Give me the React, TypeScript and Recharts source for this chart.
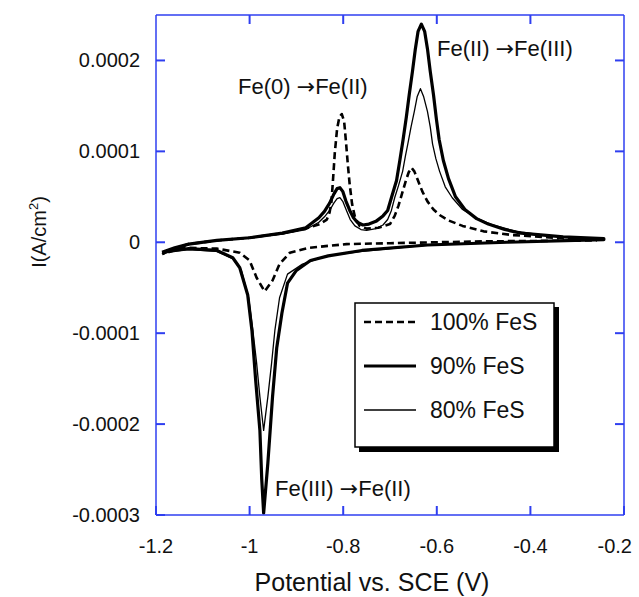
import { LineChart, Line, XAxis, YAxis, Legend } from 'recharts'

// potential (V vs SCE), current density (A/cm2), traced along the sweep
const FES_100: [number, number][] = [
  [-1.187, -0.13e-4], [-1.16, -0.07e-4], [-1.13, -0.02e-4], [-1.07, 0.02e-4],
  [-1.0, 0.05e-4], [-0.93, 0.1e-4], [-0.88, 0.15e-4], [-0.85, 0.2e-4],
  [-0.835, 0.25e-4], [-0.829, 0.33e-4], [-0.825, 0.45e-4], [-0.822, 0.67e-4],
  [-0.818, 0.98e-4], [-0.813, 1.25e-4], [-0.808, 1.38e-4], [-0.803, 1.41e-4],
  [-0.798, 1.33e-4], [-0.794, 1.1e-4], [-0.79, 0.85e-4], [-0.786, 0.63e-4],
  [-0.781, 0.42e-4], [-0.775, 0.28e-4], [-0.765, 0.18e-4], [-0.75, 0.15e-4],
  [-0.725, 0.16e-4], [-0.7, 0.2e-4], [-0.69, 0.29e-4], [-0.682, 0.4e-4],
  [-0.674, 0.54e-4], [-0.666, 0.68e-4], [-0.66, 0.77e-4], [-0.654, 0.82e-4],
  [-0.648, 0.78e-4], [-0.641, 0.69e-4], [-0.631, 0.56e-4], [-0.62, 0.45e-4],
  [-0.607, 0.36e-4], [-0.594, 0.3e-4], [-0.575, 0.24e-4], [-0.545, 0.18e-4],
  [-0.5, 0.12e-4], [-0.44, 0.08e-4], [-0.35, 0.05e-4], [-0.26, 0.03e-4],
  [-0.26, 0.02e-4], [-0.5, 0.01e-4], [-0.7, -0.01e-4], [-0.793, -0.02e-4],
  [-0.872, -0.06e-4], [-0.914, -0.115e-4], [-0.936, -0.24e-4], [-0.951, -0.42e-4],
  [-0.968, -0.54e-4], [-0.985, -0.39e-4], [-1.0, -0.2e-4], [-1.021, -0.115e-4],
  [-1.07, -0.07e-4], [-1.142, -0.06e-4], [-1.187, -0.13e-4],
]

const FES_90: [number, number][] = [
  [-1.187, -0.11e-4], [-1.16, -0.06e-4], [-1.13, -0.02e-4], [-1.07, 0.02e-4],
  [-1.0, 0.05e-4], [-0.93, 0.1e-4], [-0.88, 0.16e-4], [-0.852, 0.27e-4],
  [-0.84, 0.34e-4], [-0.829, 0.43e-4], [-0.82, 0.53e-4], [-0.813, 0.59e-4],
  [-0.807, 0.6e-4], [-0.801, 0.56e-4], [-0.794, 0.45e-4], [-0.786, 0.35e-4],
  [-0.778, 0.27e-4], [-0.77, 0.22e-4], [-0.758, 0.19e-4], [-0.745, 0.2e-4],
  [-0.73, 0.23e-4], [-0.715, 0.29e-4], [-0.705, 0.35e-4], [-0.697, 0.49e-4],
  [-0.686, 0.68e-4], [-0.679, 0.9e-4], [-0.672, 1.13e-4], [-0.665, 1.38e-4],
  [-0.659, 1.62e-4], [-0.652, 1.88e-4], [-0.646, 2.12e-4], [-0.64, 2.32e-4],
  [-0.633, 2.4e-4], [-0.626, 2.32e-4], [-0.62, 2.13e-4], [-0.614, 1.88e-4],
  [-0.607, 1.62e-4], [-0.601, 1.36e-4], [-0.595, 1.13e-4], [-0.586, 0.9e-4],
  [-0.575, 0.7e-4], [-0.56, 0.5e-4], [-0.54, 0.36e-4], [-0.515, 0.26e-4],
  [-0.49, 0.2e-4], [-0.455, 0.14e-4], [-0.42, 0.1e-4], [-0.33, 0.06e-4],
  [-0.243, 0.04e-4],
  [-0.243, 0.03e-4], [-0.45, 0.0], [-0.62, -0.03e-4], [-0.76, -0.09e-4],
  [-0.832, -0.15e-4], [-0.87, -0.2e-4], [-0.9, -0.31e-4], [-0.919, -0.45e-4],
  [-0.931, -0.78e-4], [-0.942, -1.16e-4], [-0.951, -1.7e-4], [-0.961, -2.43e-4],
  [-0.97, -2.98e-4], [-0.974, -2.61e-4], [-0.978, -2.07e-4], [-0.987, -1.52e-4],
  [-0.995, -0.97e-4], [-1.004, -0.58e-4], [-1.021, -0.28e-4], [-1.036, -0.17e-4],
  [-1.07, -0.09e-4], [-1.13, -0.07e-4], [-1.187, -0.11e-4],
]

const FES_80: [number, number][] = [
  [-1.187, -0.11e-4], [-1.16, -0.06e-4], [-1.13, -0.02e-4], [-1.07, 0.02e-4],
  [-1.0, 0.05e-4], [-0.93, 0.09e-4], [-0.88, 0.14e-4], [-0.852, 0.22e-4],
  [-0.84, 0.28e-4], [-0.829, 0.35e-4], [-0.82, 0.43e-4], [-0.813, 0.48e-4],
  [-0.807, 0.49e-4], [-0.801, 0.45e-4], [-0.793, 0.35e-4], [-0.785, 0.25e-4],
  [-0.775, 0.18e-4], [-0.762, 0.14e-4], [-0.75, 0.13e-4], [-0.73, 0.15e-4],
  [-0.715, 0.19e-4], [-0.705, 0.25e-4], [-0.697, 0.35e-4], [-0.69, 0.49e-4],
  [-0.682, 0.62e-4], [-0.673, 0.78e-4], [-0.667, 0.95e-4], [-0.662, 1.08e-4],
  [-0.655, 1.27e-4], [-0.648, 1.44e-4], [-0.642, 1.6e-4], [-0.635, 1.69e-4],
  [-0.628, 1.6e-4], [-0.62, 1.44e-4], [-0.614, 1.27e-4], [-0.609, 1.08e-4],
  [-0.602, 0.92e-4], [-0.594, 0.78e-4], [-0.582, 0.61e-4], [-0.567, 0.49e-4],
  [-0.545, 0.36e-4], [-0.516, 0.27e-4], [-0.48, 0.19e-4], [-0.43, 0.12e-4],
  [-0.36, 0.07e-4], [-0.3, 0.05e-4], [-0.26, 0.04e-4],
  [-0.26, 0.03e-4], [-0.45, 0.0], [-0.62, -0.03e-4], [-0.76, -0.1e-4],
  [-0.835, -0.15e-4], [-0.887, -0.24e-4], [-0.919, -0.35e-4], [-0.936, -0.61e-4],
  [-0.946, -0.97e-4], [-0.953, -1.33e-4], [-0.961, -1.7e-4], [-0.97, -2.07e-4],
  [-0.978, -1.7e-4], [-0.985, -1.33e-4], [-0.993, -0.97e-4], [-1.002, -0.61e-4],
  [-1.018, -0.3e-4], [-1.036, -0.18e-4], [-1.07, -0.1e-4], [-1.13, -0.08e-4],
  [-1.187, -0.11e-4],
]

const X_TICKS = [-1.2, -1, -0.8, -0.6, -0.4, -0.2]
const Y_TICKS = [-0.0003, -0.0002, -0.0001, 0, 0.0001, 0.0002]

const FONT = '"Liberation Sans", Arial, sans-serif'
const ARROW_FONT = '"DejaVu Sans", sans-serif'
const FRAME = '#2f3ff0'
const INK = '#111'
const TICK_LEN = 9
const TICK_W = 2

const toPoints = (rows: [number, number][]) => rows.map(([x, y]) => ({ x, y }))

const SERIES = [
  { name: '100% FeS', data: toPoints(FES_100), width: 2.6, dash: '7 4' },
  { name: '90% FeS', data: toPoints(FES_90), width: 3.2, dash: undefined },
  { name: '80% FeS', data: toPoints(FES_80), width: 1.3, dash: undefined },
]

// bottom axis: inward tick + label (tickMargin 24 below the axis line)
const BottomTick = (props: any) => {
  const { x, y, payload, index } = props
  const axisY = y - 24
  const last = index === X_TICKS.length - 1
  return (
    <g>
      <path d={`M${x},${axisY}V${axisY - TICK_LEN}`} stroke={FRAME} strokeWidth={TICK_W} fill="none" />
      <text
        x={last ? x + 8 : x}
        y={y}
        dy="0.71em"
        textAnchor={last ? 'end' : 'middle'}
        fontFamily={FONT}
        fontSize={20}
        fill={INK}
      >
        {payload.value}
      </text>
    </g>
  )
}

const TopTick = (props: any) => (
  <path
    d={`M${props.x},${props.y}V${props.y + TICK_LEN}`}
    stroke={FRAME}
    strokeWidth={TICK_W}
    fill="none"
  />
)

const LeftTick = (props: any) => {
  const { x, y, payload } = props
  const axisX = x + 16
  return (
    <g>
      <path d={`M${axisX},${y}H${axisX + TICK_LEN}`} stroke={FRAME} strokeWidth={TICK_W} fill="none" />
      <text x={x} y={y} dy="0.35em" textAnchor="end" fontFamily={FONT} fontSize={20} fill={INK}>
        {payload.value}
      </text>
    </g>
  )
}

const RightTick = (props: any) => (
  <path
    d={`M${props.x},${props.y}H${props.x - TICK_LEN}`}
    stroke={FRAME}
    strokeWidth={TICK_W}
    fill="none"
  />
)

const renderLegend = () => (
  <svg width={210} height={152} style={{ display: 'block' }}>
    <rect x={5} y={5} width={200} height={145} fill="#000" />
    <rect x={1} y={1} width={199} height={144} fill="#fff" stroke="#000" strokeWidth={1.5} />
    {SERIES.map((s, i) => {
      const cy = 20 + i * 44
      return (
        <g key={s.name}>
          <line
            x1={10}
            x2={62}
            y1={cy}
            y2={cy}
            stroke="#000"
            strokeWidth={s.width}
            strokeDasharray={s.dash}
          />
          <text x={76} y={cy + 8} fontFamily={FONT} fontSize={23} fill={INK}>
            {s.name}
          </text>
        </g>
      )
    })}
  </svg>
)

const Arrow = () => <tspan fontFamily={ARROW_FONT}>→</tspan>

export default function App() {
  return (
    <div style={{ position: 'absolute', left: 0, top: 0, background: '#fff' }}>
      <LineChart
        width={639}
        height={597}
        margin={{ top: 14, right: 14, bottom: 0, left: 0 }}
      >
        <XAxis
          type="number"
          dataKey="x"
          domain={[-1.2, -0.2]}
          ticks={X_TICKS}
          interval={0}
          allowDataOverflow
          height={82}
          tickSize={0}
          tickMargin={24}
          tickLine={false}
          axisLine={{ stroke: FRAME, strokeWidth: 1.5 }}
          tick={BottomTick}
        />
        <XAxis
          xAxisId="top"
          orientation="top"
          type="number"
          dataKey="x"
          domain={[-1.2, -0.2]}
          ticks={X_TICKS.slice(1, -1)}
          interval={0}
          allowDataOverflow
          height={1}
          tickSize={0}
          tickMargin={0}
          tickLine={false}
          axisLine={{ stroke: FRAME, strokeWidth: 1.5 }}
          tick={TopTick}
        />
        <YAxis
          type="number"
          domain={[-0.0003, 0.00025]}
          ticks={Y_TICKS}
          interval={0}
          allowDataOverflow
          width={156}
          tickSize={0}
          tickMargin={16}
          tickLine={false}
          axisLine={{ stroke: FRAME, strokeWidth: 1.5 }}
          tick={LeftTick}
        />
        <YAxis
          yAxisId="right"
          orientation="right"
          type="number"
          domain={[-0.0003, 0.00025]}
          ticks={Y_TICKS.slice(1)}
          interval={0}
          allowDataOverflow
          width={1}
          tickSize={0}
          tickMargin={0}
          tickLine={false}
          axisLine={{ stroke: FRAME, strokeWidth: 1.5 }}
          tick={RightTick}
        />
        {SERIES.map((s) => (
          <Line
            key={s.name}
            name={s.name}
            data={s.data}
            dataKey="y"
            type="linear"
            stroke="#000"
            strokeWidth={s.width}
            strokeDasharray={s.dash}
            strokeLinejoin="round"
            dot={false}
            activeDot={false}
            isAnimationActive={false}
          />
        ))}
        <Legend
          layout="vertical"
          align="center"
          verticalAlign="middle"
          content={renderLegend}
          wrapperStyle={{ left: 354, top: 302, width: 210, height: 152 }}
        />
        <g fontFamily={FONT} fill={INK}>
          <text x={437} y={56} fontSize={22}>
            Fe(II) <Arrow />Fe(III)
          </text>
          <text x={238} y={94} fontSize={22}>
            Fe(0) <Arrow />Fe(II)
          </text>
          <text x={275} y={496} fontSize={22}>
            Fe(III) <Arrow />Fe(II)
          </text>
          <text x={372} y={591} fontSize={25} textAnchor="middle">
            Potential vs. SCE (V)
          </text>
          <text
            x={46}
            y={232}
            fontSize={20}
            textAnchor="middle"
            transform="rotate(-90 46 232)"
          >
            I(A/cm<tspan dy={-8} fontSize={13}>2</tspan>
            <tspan dy={8}>)</tspan>
          </text>
        </g>
      </LineChart>
    </div>
  )
}
